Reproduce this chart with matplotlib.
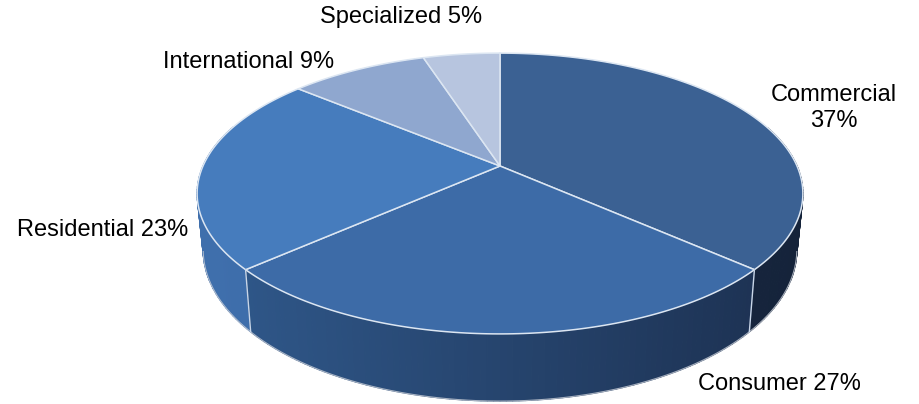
"""
3D-style pie chart: revenue share by segment.
"""
import matplotlib
matplotlib.use('Agg')
import matplotlib.pyplot as plt
from matplotlib.patches import Polygon
import numpy as np

# ── Data ──
categories = ['Commercial', 'Consumer', 'Residential', 'International', 'Specialized']
shares = [37, 27, 23, 9, 5]

top_colors = ['#3B6193', '#3D6BA7', '#467CBD', '#8FA7CF', '#B7C5DF']
side_light = ['#20345A', '#30598C', '#3F6FAC', '#6F8DBD', '#9AAED2']
side_dark = ['#15233A', '#1C3050', '#3462A0', '#5C7AAA', '#8499C0']

# label positions (pixels) and text
label_pos = [(834, 108), (779, 384), (103, 230), (249, 62), (401, 17)]
label_text = [f'{c}\n{s}%' if c == 'Commercial' else f'{c} {s}%'
              for c, s in zip(categories, shares)]

# ── Geometry of the tilted disc (pixel space) ──
CX, CY = 500, 166      # projected centre of the pie
R, RB = 297, 135       # horizontal / vertical radius
K = 0.196              # perspective strength
H = 54                 # thickness


def rim(t_deg, drop=0.0):
    t = np.radians(t_deg)
    s = 1.0 / (1.0 + K * np.sin(t))
    shrink = 1 - 0.02 * drop
    x = CX + R * np.cos(t) * s * shrink
    y = CY - RB * np.sin(t) * s + H * drop * s
    return x, y


fig = plt.figure(figsize=(9.2, 4.04), dpi=100)
ax = fig.add_axes([0, 0, 1, 1])
ax.set_xlim(0, 920)
ax.set_ylim(404, 0)
ax.axis('off')

total = sum(shares)
bounds = [90.0]
for v in shares:
    bounds.append(bounds[-1] - v / total * 360.0)

# ── Side walls: a flat base band per slice, then shaded chunks ──
chunks = []
for i in range(len(shares)):
    a0, a1 = bounds[i], bounds[i + 1]
    n = max(2, int(abs(a0 - a1)))
    ts = np.linspace(a0, a1, n + 1)
    for j in range(n):
        tm = 0.5 * (ts[j] + ts[j + 1])
        if np.sin(np.radians(tm)) > 0.3:
            continue
        chunks.append((np.sin(np.radians(tm)), i, ts[j], ts[j + 1]))
chunks.sort(key=lambda c: -c[0])


def side_color(i, xm):
    f = np.clip((xm - 200) / 600.0, 0, 1)
    c0 = np.array(matplotlib.colors.to_rgb(side_light[i]))
    c1 = np.array(matplotlib.colors.to_rgb(side_dark[i]))
    return c0 * (1 - f) + c1 * f


for _, i, ta, tb in chunks:
    xa, ya = rim(ta)
    xb, yb = rim(tb)
    xc, yc = rim(tb, 1)
    xd, yd = rim(ta, 1)
    col = side_color(i, 0.5 * (xa + xb))
    ax.add_patch(Polygon([(xa, ya), (xb, yb), (xc, yc), (xd, yd)],
                         closed=True, facecolor=col, edgecolor=col,
                         linewidth=0.9))

# faint outline along the bottom silhouette
tb_line = np.linspace(-12, -168, 200)
xb_line, yb_line = rim(tb_line, 1)
ax.plot(xb_line, yb_line, color='#C8CDD6', linewidth=0.8, alpha=0.8)

# slice boundary lines on the visible wall
for t in bounds[1:-1]:
    if np.sin(np.radians(t)) < -0.2:
        x0, y0 = rim(t)
        x1, y1 = rim(t, 1)
        ax.plot([x0, x1], [y0, y1], color='#C9D6E8', linewidth=1.0)

# ── Top faces ──
for i in range(len(shares)):
    ts = np.linspace(bounds[i], bounds[i + 1], 120)
    xs, ys = rim(ts)
    pts = [(CX, CY)] + list(zip(xs, ys))
    ax.add_patch(Polygon(pts, closed=True, facecolor=top_colors[i],
                         edgecolor='#DCE6F2', linewidth=1.1))

# ── Labels ──
for (x, y), txt in zip(label_pos, label_text):
    ax.text(x, y, txt, ha='center', va='center', fontsize=17,
            family='Liberation Sans', color='#000000', linespacing=1.25)

fig.savefig('out.png', dpi=100)
